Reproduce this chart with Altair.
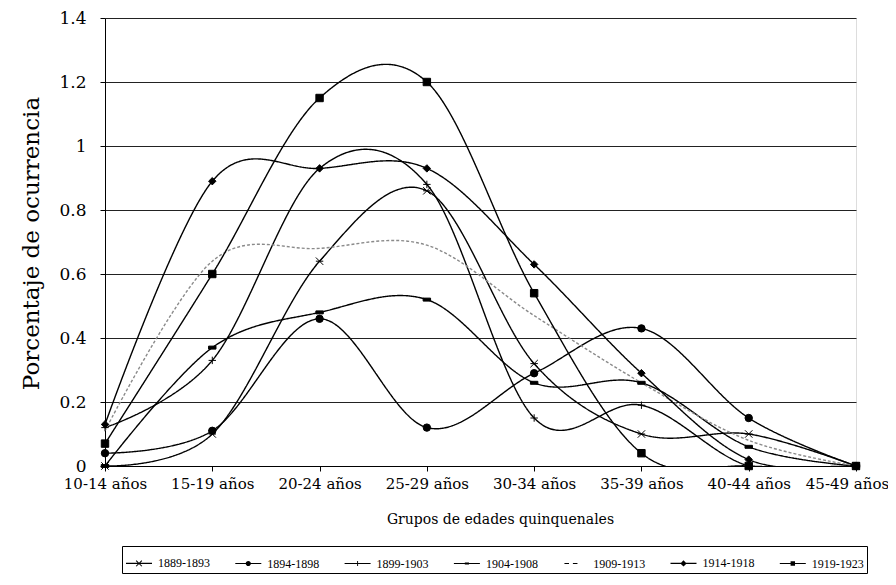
import math
import altair as alt
import pandas as pd

groups = ["10-14 años", "15-19 años", "20-24 años", "25-29 años",
          "30-34 años", "35-39 años", "40-44 años", "45-49 años"]
series = ["1889-1893", "1894-1898", "1899-1903", "1904-1908",
          "1909-1913", "1914-1918", "1919-1923"]

v1889 = [0.00, 0.10, 0.64, 0.86, 0.32, 0.10, 0.10, 0.00]
v1894 = [0.04, 0.11, 0.46, 0.12, 0.29, 0.43, 0.15, 0.00]
v1899 = [0.12, 0.33, 0.93, 0.88, 0.15, 0.19, 0.00, 0.00]
v1904 = [0.00, 0.37, 0.48, 0.52, 0.26, 0.26, 0.06, 0.00]
v1909 = [0.11, 0.64, 0.68, 0.69, 0.47, 0.26, 0.08, 0.00]
v1914 = [0.13, 0.89, 0.93, 0.93, 0.63, 0.29, 0.02, 0.00]
v1919 = [0.07, 0.60, 1.15, 1.20, 0.54, 0.04, 0.00, 0.00]

values = [v1889, v1894, v1899, v1904, v1909, v1914, v1919]
rows = []
for s, vals in zip(series, values):
    for g, v in zip(groups, vals):
        rows.append({"series": s, "group": g, "value": v})
df = pd.DataFrame(rows)

FONT = "DejaVu Serif"
LEG_FONT = "Liberation Serif"

line_colors = ["black", "black", "black", "black", "#8a8a8a", "black", "black"]
line_dash = [[1, 0], [1, 0], [1, 0], [1, 0], [3, 2], [1, 0], [1, 0]]
line_width = [1.4, 1.4, 1.2, 1.3, 1.1, 1.4, 1.4]

marker_paths = [
    "M-1,-1L1,1M-1,1L1,-1M-1,0L1,0",
    "circle",
    "M0,-1L0,1M-1,0L1,0",
    "M-1,-0.4L1,-0.4L1,0.4L-1,0.4Z",
    "M-0.5,0L0.5,0",
    "diamond",
    "square",
]


def seg(x1, y1, x2, y2, t):
    dx, dy = x2 - x1, y2 - y1
    ln = math.hypot(dx, dy)
    nx, ny = dy / ln * t, -dx / ln * t
    pts = [(x1 + nx, y1 + ny), (x2 + nx, y2 + ny), (x2 - nx, y2 - ny), (x1 - nx, y1 - ny)]
    return "M" + "L".join(f"{px:.3f},{py:.3f}" for px, py in pts) + "Z"


T = 0.045
base = seg(-1, 0, 1, 0, T)
legend_paths = [
    base + seg(-0.22, -0.22, 0.22, 0.22, 0.04) + seg(-0.22, 0.22, 0.22, -0.22, 0.04),
    base + "M0.2,0A0.2,0.2,0,1,1,-0.2,0A0.2,0.2,0,1,1,0.2,0Z",
    base + seg(0, -0.2, 0, 0.2, 0.035),
    base + "M-0.16,-0.075L0.16,-0.075L0.16,0.075L-0.16,0.075Z",
    seg(-0.75, 0, -0.4, 0, T) + seg(-0.1, 0, 0.25, 0, T),
    base + "M0,-0.24L0.24,0L0,0.24L-0.24,0Z",
    base + "M-0.17,-0.17L0.17,-0.17L0.17,0.17L-0.17,0.17Z",
]

x_enc = alt.X(
    "group:N", sort=groups,
    scale=alt.Scale(type="point", padding=0),
    axis=alt.Axis(
        title="Grupos de edades quinquenales",
        labelAngle=0, labelFont=FONT, labelFontSize=15, labelColor="black",
        labelPadding=5, tickSize=5, tickColor="black", domainColor="black",
        labelOffset={"condition": {"test": "datum.value === '45-49 años'", "value": -9}, "value": 0},
        titleFont=FONT, titleFontSize=14, titleFontWeight="normal",
        titleColor="black", titleX=395, titleY=46, grid=False,
    ),
)
y_enc = alt.Y(
    "value:Q",
    scale=alt.Scale(domain=[0, 1.4], nice=False, zero=True),
    axis=alt.Axis(
        title="Porcentaje de ocurrencia",
        values=[0, 0.2, 0.4, 0.6, 0.8, 1.0, 1.2, 1.4], format="~g",
        labelFont=FONT, labelFontSize=17, labelColor="black", labelPadding=14,
        tickSize=5, tickColor="black", domainColor="black",
        grid=True, gridColor="#222222", gridWidth=1,
        titleFont=FONT, titleFontSize=23, titleFontWeight="normal",
        titleColor="black", titleX=-62, titleY=225,
    ),
)

lines = alt.Chart(df).mark_line(interpolate="cardinal", clip=True).encode(
    x=x_enc, y=y_enc,
    detail="series:N",
    stroke=alt.Stroke("series:N", scale=alt.Scale(domain=series, range=line_colors), legend=None),
    strokeDash=alt.StrokeDash("series:N", scale=alt.Scale(domain=series, range=line_dash), legend=None),
    strokeWidth=alt.StrokeWidth("series:N", scale=alt.Scale(domain=series, range=line_width), legend=None),
)

points = alt.Chart(df).transform_filter(
    alt.datum.series != "1909-1913"
).mark_point(filled=True, fill="black", stroke="black", strokeWidth=1, size=55, opacity=1).encode(
    x=x_enc, y=y_enc,
    shape=alt.Shape("series:N", scale=alt.Scale(domain=series, range=marker_paths), legend=None),
)

legend_layer = alt.Chart(df).mark_point(
    filled=True, fill="black", opacity=0
).encode(
    x=x_enc, y=y_enc,
    shape=alt.Shape(
        "series:N",
        scale=alt.Scale(domain=series, range=legend_paths),
        legend=alt.Legend(
            title=None, orient="none", legendX=17, legendY=528,
            direction="horizontal", columns=7,
            symbolSize=676, symbolFillColor="black", symbolOpacity=1,
            labelFont=LEG_FONT, labelFontSize=12, labelColor="black", labelOffset=5,
            columnPadding=22.3, padding=3, strokeColor="black",
        ),
    ),
)

chart = alt.layer(lines, points, legend_layer).resolve_scale(
    shape="independent"
).properties(
    width=751, height=448,
    autosize=alt.AutoSizeParams(type="none"),
    padding={"left": 97, "top": 10, "right": 32, "bottom": 111},
).configure_view(stroke="black", strokeWidth=1).configure(background="white")

chart.save("out.html", embed_options={"renderer": "svg", "actions": False})
